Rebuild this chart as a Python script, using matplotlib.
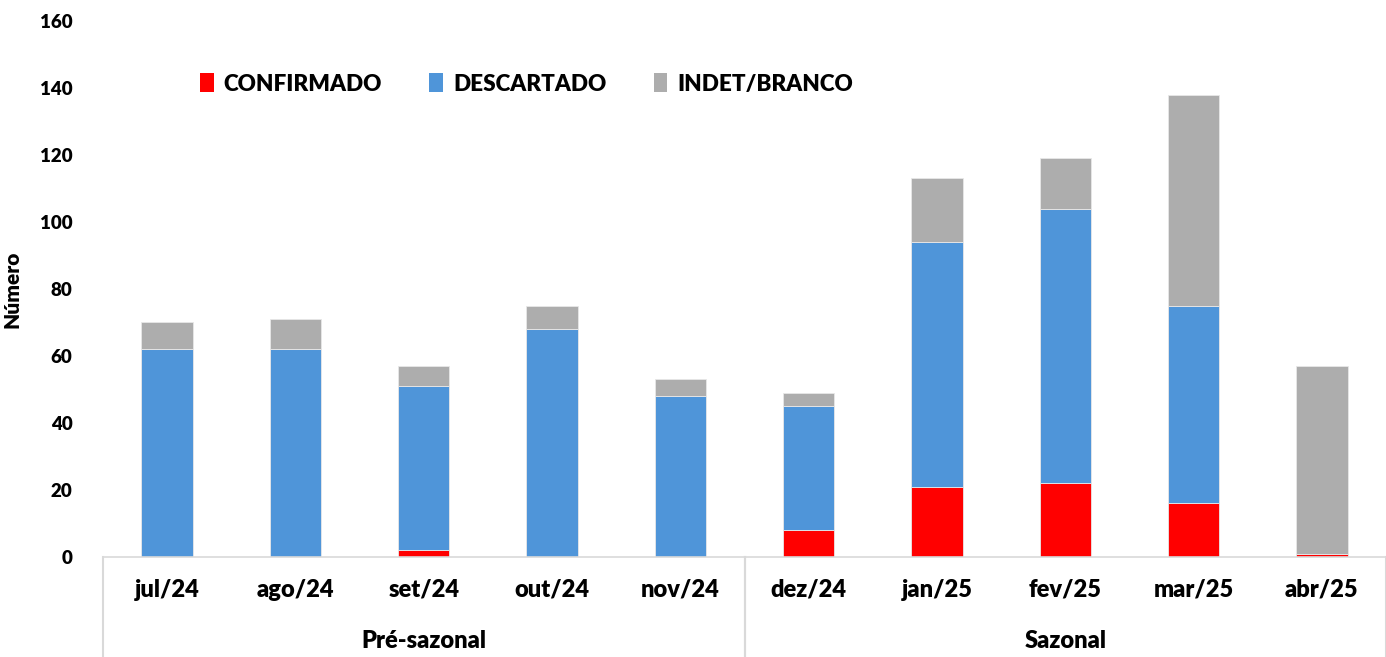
import matplotlib
matplotlib.use("Agg")
import matplotlib.pyplot as plt
from matplotlib.patches import Patch

plt.rcParams['font.family'] = ['Lato', 'DejaVu Sans']

months = ["jul/24", "ago/24", "set/24", "out/24", "nov/24",
          "dez/24", "jan/25", "fev/25", "mar/25", "abr/25"]
confirmado = [0, 0, 2, 0, 0, 8, 21, 22, 16, 1]
descartado = [62, 62, 49, 68, 48, 37, 73, 82, 59, 0]
indet = [8, 9, 6, 7, 5, 4, 19, 15, 63, 56]
groups = ["Pré-sazonal", "Sazonal"]
group_sizes = [5, 5]
yticks = [0, 20, 40, 60, 80, 100, 120, 140, 160]

c_red = "#ff0000"
c_blue = "#4f95d9"
c_gray = "#adadad"
FW = "heavy"

fig = plt.figure(figsize=(13.86, 6.57), dpi=100)
ax = fig.add_axes([103/1386, 1-557/657, (1386-103)/1386, (557-21)/657])

x = list(range(len(months)))
w = 0.4
b1 = confirmado
b2 = [a + b for a, b in zip(confirmado, descartado)]
ax.bar(x, confirmado, width=w, color=c_red, edgecolor="#e8e8e8", linewidth=0.6, zorder=2)
ax.bar(x, descartado, width=w, bottom=b1, color=c_blue, edgecolor="#e8e8e8", linewidth=0.6, zorder=2)
ax.bar(x, indet, width=w, bottom=b2, color=c_gray, edgecolor="#e8e8e8", linewidth=0.6, zorder=2)

ax.set_xlim(-0.5, len(months) - 0.5)
ax.set_ylim(0, 160)
ax.set_yticks(yticks)
ax.set_yticklabels([str(t) for t in yticks], fontsize=13.5, fontweight=FW)
ax.tick_params(axis="y", length=0, pad=22)
ax.set_xticks([])
for s in ["top", "right", "left"]:
    ax.spines[s].set_visible(False)
ax.spines["bottom"].set_color("#d9d9d9")
ax.spines["bottom"].set_linewidth(1.2)

ax.set_ylabel("Número", fontsize=15, fontweight=FW)
ax.yaxis.set_label_coords((22 - 103) / 1283, 0.5)

trans = ax.get_xaxis_transform()
for i, m in enumerate(months):
    ax.text(i, -33/536, m, transform=trans, ha="center", va="center",
            fontsize=17, fontweight=FW, clip_on=False)

start = 0
sep_depth = -100/536
for g, n in zip(groups, group_sizes):
    center = start + (n - 1) / 2
    ax.text(center, -84/536, g, transform=trans, ha="center", va="center",
            fontsize=17, fontweight=FW, clip_on=False)
    for xx in [start - 0.5, start + n - 0.5]:
        ax.plot([xx, xx], [0, sep_depth], transform=trans, color="#d9d9d9",
                linewidth=1.5, clip_on=False)
    start += n

handles = [Patch(facecolor=c_red), Patch(facecolor=c_blue), Patch(facecolor=c_gray)]
leg = ax.legend(handles, ["CONFIRMADO", "DESCARTADO", "INDET/BRANCO"], ncol=3,
                loc="upper left", bbox_to_anchor=(0.06, 0.94), frameon=False,
                prop={"size": 16.2, "weight": FW}, handlelength=0.6, handleheight=0.9,
                handletextpad=0.45, columnspacing=2.1)

fig.savefig("out.png", dpi=100)
